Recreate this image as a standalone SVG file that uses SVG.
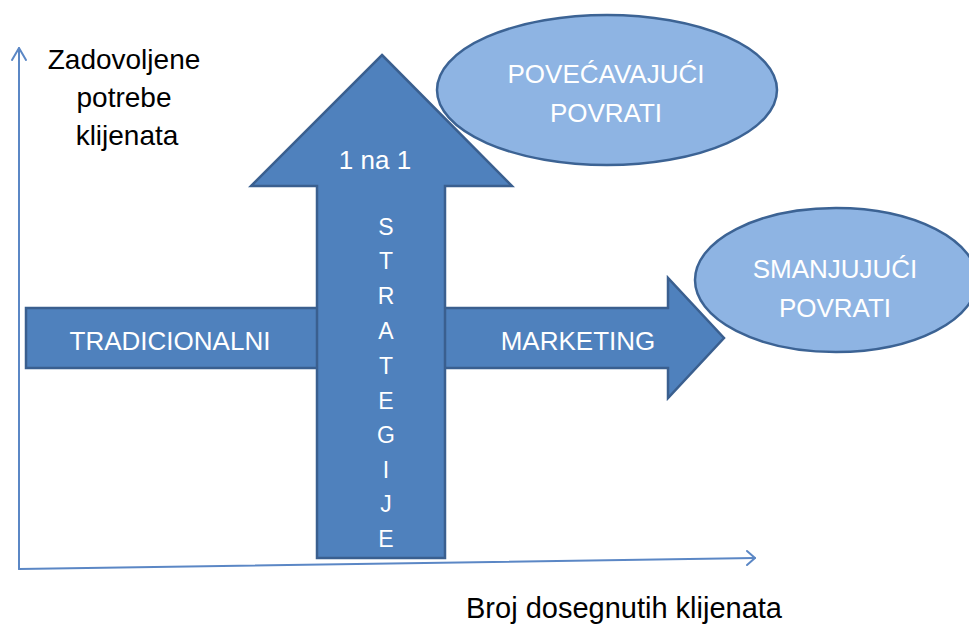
<svg xmlns="http://www.w3.org/2000/svg" width="969" height="624" viewBox="0 0 969 624">
<style>
.arrow{fill:#4f81bd;stroke:#3a5f8f;stroke-width:2.5;stroke-linejoin:miter}
.oval{fill:#8eb4e3;stroke:#3c6394;stroke-width:2.5}
.wt{font-family:"Liberation Sans",Arial,sans-serif;font-size:26px;fill:#ffffff;text-anchor:middle}
.vt{font-family:"Liberation Sans",Arial,sans-serif;font-size:23px;fill:#ffffff;text-anchor:middle}
.bt{font-family:"Liberation Sans",Arial,sans-serif;font-size:28px;fill:#000000;text-anchor:middle}
.axis{fill:none;stroke:#5b87c5;stroke-width:2;stroke-linecap:round;stroke-linejoin:round}
</style>
<rect width="969" height="624" fill="#ffffff"/>
<g id="connectors">
  <path class="axis" d="M19,569 L19,48"/>
  <path class="axis" d="M12,60 L19,48 L26,60"/>
  <path class="axis" d="M19,569 L755,558"/>
  <path class="axis" d="M747,551 L755,558 L747,565"/>
</g>
<g id="oval-povecavajuci">
  <ellipse class="oval" cx="607" cy="90" rx="170" ry="75"/>
  <text class="wt" x="606" y="83">POVEĆAVAJUĆI</text>
  <text class="wt" x="606" y="122">POVRATI</text>
</g>
<g id="oval-smanjujuci">
  <ellipse class="oval" cx="836" cy="280" rx="141" ry="72"/>
  <text class="wt" x="835" y="278">SMANJUJUĆI</text>
  <text class="wt" x="835" y="317">POVRATI</text>
</g>
<g id="arrow-tradicionalni-marketing">
  <polygon class="arrow" points="26,308 668,308 668,278 724,338 668,398 668,368 26,368"/>
  <text class="wt" x="170" y="350">TRADICIONALNI</text>
  <text class="wt" x="578" y="350">MARKETING</text>
</g>
<g id="arrow-1na1-strategije">
  <polygon class="arrow" points="382,55 512,186 445,186 445,558 317,558 317,186 251,186"/>
  <text class="wt" x="375" y="169">1 na 1</text>
  <text class="vt" x="386" y="235">S</text>
  <text class="vt" x="386" y="269">T</text>
  <text class="vt" x="386" y="304">R</text>
  <text class="vt" x="386" y="339">A</text>
  <text class="vt" x="386" y="374">T</text>
  <text class="vt" x="386" y="409">E</text>
  <text class="vt" x="386" y="443">G</text>
  <text class="vt" x="386" y="478">I</text>
  <text class="vt" x="386" y="512">J</text>
  <text class="vt" x="386" y="547">E</text>
</g>
<g id="label-y">
  <text class="bt" x="124" y="69">Zadovoljene</text>
  <text class="bt" x="124" y="107">potrebe</text>
  <text class="bt" x="127" y="145">klijenata</text>
</g>
<g id="label-x">
  <text class="bt" x="624" y="618" style="font-size:29px">Broj dosegnutih klijenata</text>
</g>
</svg>
